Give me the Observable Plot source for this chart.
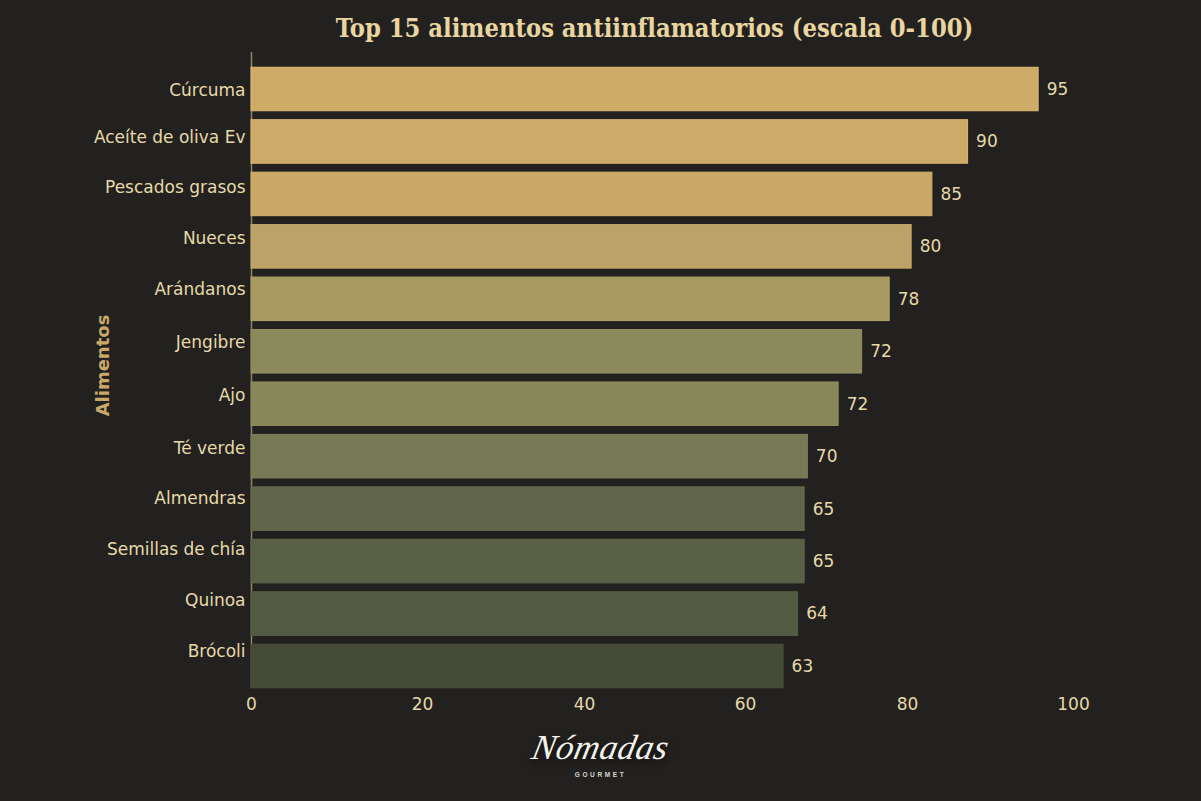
<!DOCTYPE html>
<html lang="es">
<head>
<meta charset="utf-8">
<script src="https://cdn.jsdelivr.net/npm/d3@7"></script>
<script src="https://cdn.jsdelivr.net/npm/@observablehq/plot@0.6"></script>
<style>
  html, body { margin: 0; padding: 0; background: #22211f; }
  #wrap { width: 1201px; height: 801px; overflow: hidden; position: relative; background: #22211f; }
  #title { height: 50px; width: 1201px; padding-left: 108px; box-sizing: border-box; text-align: center;
           font: bold 25.3px/56px "DejaVu Serif Condensed", "DejaVu Serif", serif; font-stretch: condensed; color: #e8d5a0; white-space: nowrap; }
  #logo { position: absolute; left: 0; width: 1201px; top: 726px; text-align: center; color: #f4f2ec; }
  #logo .name { font: italic 35px/44px "Liberation Serif", serif; transform: skewX(-12deg); letter-spacing: 0.5px; text-shadow: 2px 3px 6px #0009; }
  #logo .sub { font: bold 6.5px/8px "Liberation Sans", sans-serif; letter-spacing: 2.6px; margin-top: 1px; color: #d8d6cf; }
</style>
</head>
<body>
<div id="wrap">
  <div id="title">Top 15 alimentos antiinflamatorios (escala 0-100)</div>
  <div id="chart"></div>
  <div id="logo"><div class="name">Nómadas</div><div class="sub">GOURMET</div></div>
</div>
<script>
const foods = ["Cúrcuma","Aceíte de oliva Ev","Pescados grasos","Nueces","Arándanos","Jengibre","Ajo","Té verde","Almendras","Semillas de chía","Quinoa","Brócoli"];
// Printed value beside each bar
const printedValues = [95,90,85,80,78,72,72,70,65,65,64,63];
// Bar length as read against the axis (the picture's bars do not follow the printed numbers)
const barLengths = [95.8,87.3,83.0,80.5,77.8,74.4,71.5,67.7,67.3,67.3,66.5,64.7];
// Row position of each food name: the names drift upward from their bars in the picture
const nameRows = [0.02,0.92,1.87,2.84,3.81,4.82,5.83,6.84,7.80,8.77,9.74,10.72];
const xTicks = [0,20,40,60,80,100];
const barFills = ["#cfab68","#cdaa67","#caa866","#bba266","#a89a60","#8a8a5c","#87875b","#767a55","#61664a","#5a6046","#535a42","#454b36"];
const barEdges = ["#e0bc72","#dcb96f","#d2b06b","#c4aa6c","#b0a266","#909061","#8c8c5f","#7c8059","#676c4e","#60664a","#596046","#4b513a"];

const rows = foods.map((food, i) => ({food, row: i, name: nameRows[i], length: barLengths[i], printed: printedValues[i], fill: barFills[i], edge: barEdges[i]}));
const halfBar = 0.415;

const chart = Plot.plot({
  width: 1201,
  height: 670,
  marginTop: 2,
  marginBottom: 32,
  marginLeft: 251,
  marginRight: 128,
  style: {background: "transparent", color: "#e6d9a8", fontFamily: "'DejaVu Sans', sans-serif", fontSize: "17px"},
  x: {type: "linear", domain: xTicks, range: [251,422,584,745,907,1073], ticks: xTicks, tickSize: 0, tickPadding: 9, label: null},
  y: {type: "linear", domain: [0, 11], range: [39, 616], axis: null},
  marks: [
    Plot.ruleX([0], {stroke: "#8f8660", strokeWidth: 1.5}),
    Plot.rectX(rows, {x1: () => 0, x2: "length", y1: d => d.row - halfBar, y2: d => d.row + halfBar, fill: d => d.fill, stroke: d => d.edge, strokeWidth: 1}),
    Plot.text(rows, {x: "length", y: "row", text: d => String(d.printed), textAnchor: "start", dx: 8, fill: "#e6d9a8", fontSize: 17}),
    Plot.text(rows, {y: "name", text: "food", frameAnchor: "left", textAnchor: "end", dx: -6, fill: "#e6d9a8", fontSize: 17}),
    Plot.text(["Alimentos"], {frameAnchor: "left", textAnchor: "middle", rotate: -90, dx: -148, dy: -5, fill: "#c9a868", fontSize: 18, fontWeight: "bold"})
  ]
});
document.getElementById("chart").append(chart);
</script>
</body>
</html>
